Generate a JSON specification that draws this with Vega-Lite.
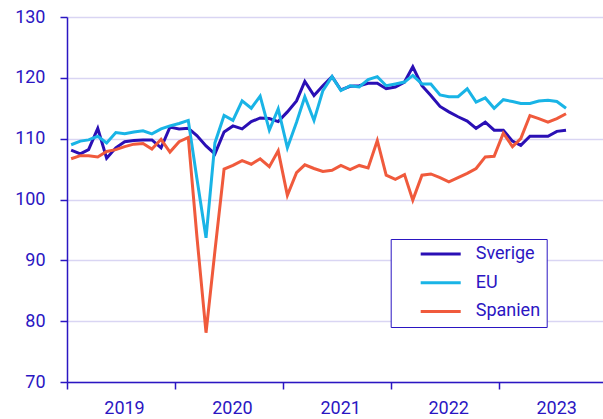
{
  "$schema": "https://vega.github.io/schema/vega-lite/v6.json",
  "width": 536,
  "height": 365,
  "autosize": {"type": "none"},
  "padding": {"left": 67, "top": 17, "right": 0, "bottom": 37},
  "background": "white",
  "config": {"view": {"stroke": null}, "font": "Roboto"},
  "data": {"values": [
    {"date":"2019-01-15","series":"Sverige","value":108.1},
    {"date":"2019-02-15","series":"Sverige","value":107.5},
    {"date":"2019-03-15","series":"Sverige","value":108.2},
    {"date":"2019-04-15","series":"Sverige","value":111.7},
    {"date":"2019-05-15","series":"Sverige","value":106.8},
    {"date":"2019-06-15","series":"Sverige","value":108.5},
    {"date":"2019-07-15","series":"Sverige","value":109.5},
    {"date":"2019-08-15","series":"Sverige","value":109.7},
    {"date":"2019-09-15","series":"Sverige","value":109.8},
    {"date":"2019-10-15","series":"Sverige","value":109.8},
    {"date":"2019-11-15","series":"Sverige","value":108.5},
    {"date":"2019-12-15","series":"Sverige","value":111.9},
    {"date":"2020-01-15","series":"Sverige","value":111.6},
    {"date":"2020-02-15","series":"Sverige","value":111.7},
    {"date":"2020-03-15","series":"Sverige","value":110.5},
    {"date":"2020-04-15","series":"Sverige","value":108.8},
    {"date":"2020-05-15","series":"Sverige","value":107.5},
    {"date":"2020-06-15","series":"Sverige","value":111.1},
    {"date":"2020-07-15","series":"Sverige","value":112.1},
    {"date":"2020-08-15","series":"Sverige","value":111.6},
    {"date":"2020-09-15","series":"Sverige","value":112.8},
    {"date":"2020-10-15","series":"Sverige","value":113.4},
    {"date":"2020-11-15","series":"Sverige","value":113.3},
    {"date":"2020-12-15","series":"Sverige","value":112.8},
    {"date":"2021-01-15","series":"Sverige","value":114.4},
    {"date":"2021-02-15","series":"Sverige","value":116.2},
    {"date":"2021-03-15","series":"Sverige","value":119.4},
    {"date":"2021-04-15","series":"Sverige","value":117.1},
    {"date":"2021-05-15","series":"Sverige","value":118.7},
    {"date":"2021-06-15","series":"Sverige","value":120.2},
    {"date":"2021-07-15","series":"Sverige","value":118.0},
    {"date":"2021-08-15","series":"Sverige","value":118.6},
    {"date":"2021-09-15","series":"Sverige","value":118.7},
    {"date":"2021-10-15","series":"Sverige","value":119.1},
    {"date":"2021-11-15","series":"Sverige","value":119.1},
    {"date":"2021-12-15","series":"Sverige","value":118.2},
    {"date":"2022-01-15","series":"Sverige","value":118.5},
    {"date":"2022-02-15","series":"Sverige","value":119.3},
    {"date":"2022-03-15","series":"Sverige","value":121.8},
    {"date":"2022-04-15","series":"Sverige","value":118.7},
    {"date":"2022-05-15","series":"Sverige","value":117.1},
    {"date":"2022-06-15","series":"Sverige","value":115.3},
    {"date":"2022-07-15","series":"Sverige","value":114.4},
    {"date":"2022-08-15","series":"Sverige","value":113.6},
    {"date":"2022-09-15","series":"Sverige","value":112.9},
    {"date":"2022-10-15","series":"Sverige","value":111.7},
    {"date":"2022-11-15","series":"Sverige","value":112.7},
    {"date":"2022-12-15","series":"Sverige","value":111.4},
    {"date":"2023-01-15","series":"Sverige","value":111.4},
    {"date":"2023-02-15","series":"Sverige","value":109.6},
    {"date":"2023-03-15","series":"Sverige","value":108.9},
    {"date":"2023-04-15","series":"Sverige","value":110.4},
    {"date":"2023-05-15","series":"Sverige","value":110.4},
    {"date":"2023-06-15","series":"Sverige","value":110.4},
    {"date":"2023-07-15","series":"Sverige","value":111.2},
    {"date":"2023-08-15","series":"Sverige","value":111.4},
    {"date":"2019-01-15","series":"EU","value":109.0},
    {"date":"2019-02-15","series":"EU","value":109.6},
    {"date":"2019-03-15","series":"EU","value":109.8},
    {"date":"2019-04-15","series":"EU","value":110.4},
    {"date":"2019-05-15","series":"EU","value":109.3},
    {"date":"2019-06-15","series":"EU","value":111.0},
    {"date":"2019-07-15","series":"EU","value":110.8},
    {"date":"2019-08-15","series":"EU","value":111.1},
    {"date":"2019-09-15","series":"EU","value":111.3},
    {"date":"2019-10-15","series":"EU","value":110.8},
    {"date":"2019-11-15","series":"EU","value":111.6},
    {"date":"2019-12-15","series":"EU","value":112.1},
    {"date":"2020-01-15","series":"EU","value":112.5},
    {"date":"2020-02-15","series":"EU","value":113.0},
    {"date":"2020-03-15","series":"EU","value":103.5},
    {"date":"2020-04-15","series":"EU","value":93.7},
    {"date":"2020-05-15","series":"EU","value":109.3},
    {"date":"2020-06-15","series":"EU","value":113.8},
    {"date":"2020-07-15","series":"EU","value":113.0},
    {"date":"2020-08-15","series":"EU","value":116.2},
    {"date":"2020-09-15","series":"EU","value":115.0},
    {"date":"2020-10-15","series":"EU","value":117.0},
    {"date":"2020-11-15","series":"EU","value":111.4},
    {"date":"2020-12-15","series":"EU","value":114.9},
    {"date":"2021-01-15","series":"EU","value":108.5},
    {"date":"2021-02-15","series":"EU","value":112.7},
    {"date":"2021-03-15","series":"EU","value":116.9},
    {"date":"2021-04-15","series":"EU","value":113.0},
    {"date":"2021-05-15","series":"EU","value":117.9},
    {"date":"2021-06-15","series":"EU","value":120.2},
    {"date":"2021-07-15","series":"EU","value":117.9},
    {"date":"2021-08-15","series":"EU","value":118.7},
    {"date":"2021-09-15","series":"EU","value":118.5},
    {"date":"2021-10-15","series":"EU","value":119.7},
    {"date":"2021-11-15","series":"EU","value":120.2},
    {"date":"2021-12-15","series":"EU","value":118.7},
    {"date":"2022-01-15","series":"EU","value":119.0},
    {"date":"2022-02-15","series":"EU","value":119.3},
    {"date":"2022-03-15","series":"EU","value":120.4},
    {"date":"2022-04-15","series":"EU","value":119.0},
    {"date":"2022-05-15","series":"EU","value":119.0},
    {"date":"2022-06-15","series":"EU","value":117.2},
    {"date":"2022-07-15","series":"EU","value":116.9},
    {"date":"2022-08-15","series":"EU","value":116.9},
    {"date":"2022-09-15","series":"EU","value":118.2},
    {"date":"2022-10-15","series":"EU","value":116.0},
    {"date":"2022-11-15","series":"EU","value":116.7},
    {"date":"2022-12-15","series":"EU","value":115.0},
    {"date":"2023-01-15","series":"EU","value":116.4},
    {"date":"2023-02-15","series":"EU","value":116.1},
    {"date":"2023-03-15","series":"EU","value":115.8},
    {"date":"2023-04-15","series":"EU","value":115.8},
    {"date":"2023-05-15","series":"EU","value":116.2},
    {"date":"2023-06-15","series":"EU","value":116.3},
    {"date":"2023-07-15","series":"EU","value":116.1},
    {"date":"2023-08-15","series":"EU","value":115.0},
    {"date":"2019-01-15","series":"Spanien","value":106.7},
    {"date":"2019-02-15","series":"Spanien","value":107.2},
    {"date":"2019-03-15","series":"Spanien","value":107.2},
    {"date":"2019-04-15","series":"Spanien","value":107.0},
    {"date":"2019-05-15","series":"Spanien","value":107.9},
    {"date":"2019-06-15","series":"Spanien","value":108.2},
    {"date":"2019-07-15","series":"Spanien","value":108.7},
    {"date":"2019-08-15","series":"Spanien","value":109.1},
    {"date":"2019-09-15","series":"Spanien","value":109.2},
    {"date":"2019-10-15","series":"Spanien","value":108.3},
    {"date":"2019-11-15","series":"Spanien","value":109.9},
    {"date":"2019-12-15","series":"Spanien","value":107.8},
    {"date":"2020-01-15","series":"Spanien","value":109.5},
    {"date":"2020-02-15","series":"Spanien","value":110.2},
    {"date":"2020-03-15","series":"Spanien","value":94.0},
    {"date":"2020-04-15","series":"Spanien","value":78.1},
    {"date":"2020-05-15","series":"Spanien","value":91.5},
    {"date":"2020-06-15","series":"Spanien","value":105.0},
    {"date":"2020-07-15","series":"Spanien","value":105.6},
    {"date":"2020-08-15","series":"Spanien","value":106.4},
    {"date":"2020-09-15","series":"Spanien","value":105.8},
    {"date":"2020-10-15","series":"Spanien","value":106.7},
    {"date":"2020-11-15","series":"Spanien","value":105.4},
    {"date":"2020-12-15","series":"Spanien","value":108.0},
    {"date":"2021-01-15","series":"Spanien","value":100.7},
    {"date":"2021-02-15","series":"Spanien","value":104.4},
    {"date":"2021-03-15","series":"Spanien","value":105.7},
    {"date":"2021-04-15","series":"Spanien","value":105.1},
    {"date":"2021-05-15","series":"Spanien","value":104.6},
    {"date":"2021-06-15","series":"Spanien","value":104.8},
    {"date":"2021-07-15","series":"Spanien","value":105.6},
    {"date":"2021-08-15","series":"Spanien","value":104.9},
    {"date":"2021-09-15","series":"Spanien","value":105.6},
    {"date":"2021-10-15","series":"Spanien","value":105.2},
    {"date":"2021-11-15","series":"Spanien","value":109.7},
    {"date":"2021-12-15","series":"Spanien","value":104.0},
    {"date":"2022-01-15","series":"Spanien","value":103.3},
    {"date":"2022-02-15","series":"Spanien","value":104.1},
    {"date":"2022-03-15","series":"Spanien","value":99.9},
    {"date":"2022-04-15","series":"Spanien","value":104.0},
    {"date":"2022-05-15","series":"Spanien","value":104.2},
    {"date":"2022-06-15","series":"Spanien","value":103.6},
    {"date":"2022-07-15","series":"Spanien","value":102.9},
    {"date":"2022-08-15","series":"Spanien","value":103.6},
    {"date":"2022-09-15","series":"Spanien","value":104.3},
    {"date":"2022-10-15","series":"Spanien","value":105.1},
    {"date":"2022-11-15","series":"Spanien","value":107.0},
    {"date":"2022-12-15","series":"Spanien","value":107.1},
    {"date":"2023-01-15","series":"Spanien","value":110.9},
    {"date":"2023-02-15","series":"Spanien","value":108.7},
    {"date":"2023-03-15","series":"Spanien","value":110.0},
    {"date":"2023-04-15","series":"Spanien","value":113.8},
    {"date":"2023-05-15","series":"Spanien","value":113.3},
    {"date":"2023-06-15","series":"Spanien","value":112.7},
    {"date":"2023-07-15","series":"Spanien","value":113.3},
    {"date":"2023-08-15","series":"Spanien","value":114.1}
  ]},
  "mark": {"type": "line", "strokeWidth": 3, "clip": true},
  "encoding": {
    "x": {
      "field": "date", "type": "temporal",
      "scale": {"domain": [{"year": 2019, "month": 1, "date": 1}, {"year": 2023, "month": 12, "date": 18}], "nice": false},
      "axis": {
        "title": null,
        "values": [{"year": 2019, "month": 1, "date": 1}, {"year": 2020, "month": 1, "date": 1}, {"year": 2021, "month": 1, "date": 1}, {"year": 2022, "month": 1, "date": 1}, {"year": 2023, "month": 1, "date": 1}],
        "format": "%Y", "labelOffset": 57, "labelAlign": "center", "labelFlush": false, "labelOverlap": false, "labelBound": false,
        "tickSize": 7, "tickWidth": 1.5, "tickColor": "#2b16c2", "domainColor": "#2b16c2", "domainWidth": 1.5,
        "labelColor": "#2b16c2", "labelFontSize": 18, "labelPadding": 10, "grid": false
      }
    },
    "y": {
      "field": "value", "type": "quantitative",
      "scale": {"domain": [70, 130], "nice": false, "zero": false},
      "axis": {
        "title": null, "values": [70, 80, 90, 100, 110, 120, 130],
        "tickSize": 7, "tickWidth": 1.5, "tickColor": "#2b16c2", "domainColor": "#2b16c2", "domainWidth": 1.5,
        "labelColor": "#2b16c2", "labelFontSize": 18, "labelPadding": 15,
        "grid": true, "gridColor": "#d9d5f3", "gridWidth": 1.5
      }
    },
    "color": {
      "field": "series", "type": "nominal",
      "scale": {"domain": ["Sverige", "EU", "Spanien"], "range": ["#2a0fb5", "#19b4e6", "#f05a3c"]},
      "legend": {
        "title": " ", "titleOrient": "left", "titlePadding": 24, "titleFontSize": 18,
        "orient": "none", "legendX": 323.7, "legendY": 222,
        "padding": 6, "strokeColor": "#2b16c2", "fillColor": "white",
        "symbolType": "M-3,0H3", "symbolSize": 178, "symbolStrokeWidth": 3, "symbolOffset": 11,
        "labelOffset": 26, "labelFontSize": 18, "labelColor": "#2b16c2", "rowPadding": 10.7,
        "labelExpr": "datum.label + '      '"
      }
    }
  }
}
